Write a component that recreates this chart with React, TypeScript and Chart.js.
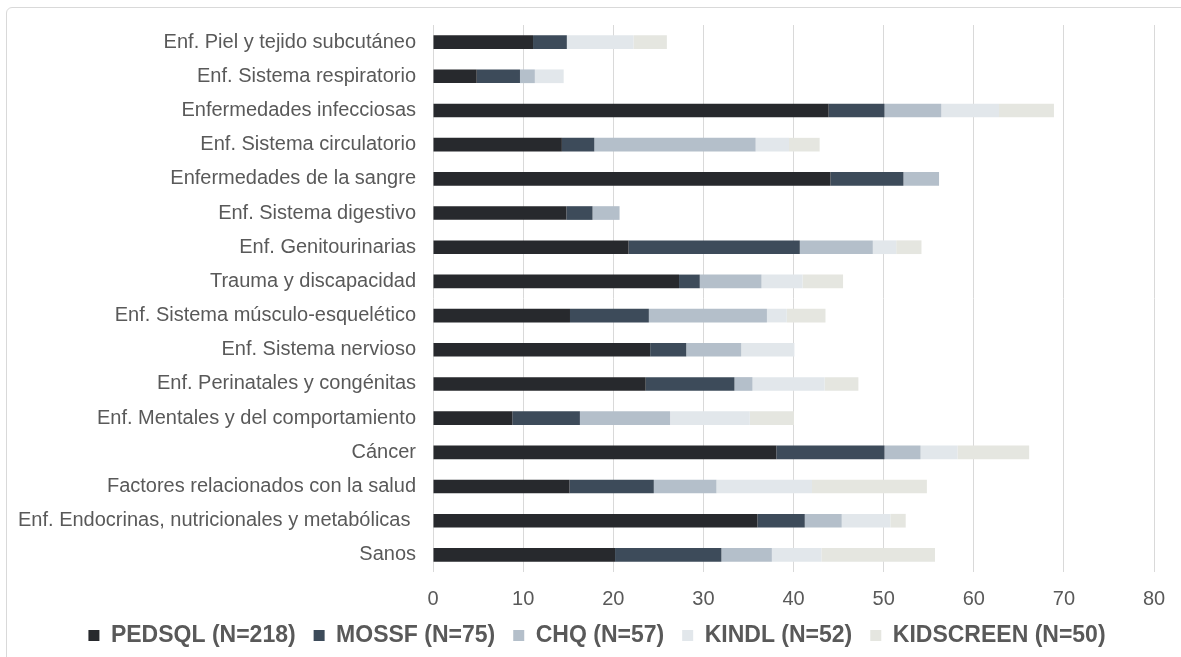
import React, { useEffect, useRef } from "react";
import { Chart, registerables } from "chart.js";

Chart.register(...registerables);

const categories = [
  "Enf. Piel y tejido subcutáneo",
  "Enf. Sistema respiratorio",
  "Enfermedades infecciosas",
  "Enf. Sistema circulatorio",
  "Enfermedades de la sangre",
  "Enf. Sistema digestivo",
  "Enf. Genitourinarias",
  "Trauma y discapacidad",
  "Enf. Sistema músculo-esquelético",
  "Enf. Sistema nervioso",
  "Enf. Perinatales y congénitas",
  "Enf. Mentales y del comportamiento",
  "Cáncer",
  "Factores relacionados con la salud",
  "Enf. Endocrinas, nutricionales y metabólicas ",
  "Sanos",
];

const seriesNames = [
  "PEDSQL (N=218)",
  "MOSSF (N=75)",
  "CHQ (N=57)",
  "KINDL (N=52)",
  "KIDSCREEN (N=50)",
];

const pedsql = [11.1, 4.85, 43.9, 14.3, 44.1, 14.8, 21.7, 27.3, 15.2, 24.1, 23.6, 8.8, 38.1, 15.15, 36.0, 20.2];
const mossf = [3.75, 4.8, 6.2, 3.6, 8.1, 2.9, 19.0, 2.3, 8.75, 4.0, 9.85, 7.5, 12.0, 9.35, 5.25, 11.8];
const chq = [0, 1.65, 6.3, 17.9, 3.95, 3.0, 8.1, 6.85, 13.1, 6.1, 2.0, 10.0, 4.0, 6.95, 4.1, 5.6];
const kindl = [7.4, 3.2, 6.4, 3.7, 0, 0, 2.6, 4.55, 2.2, 5.9, 8.0, 8.85, 4.1, 10.6, 5.4, 5.5];
const kidscreen = [3.7, 0, 6.1, 3.4, 0, 0, 2.8, 4.5, 4.3, 0, 3.75, 4.9, 7.95, 12.75, 1.7, 12.6];

const colors = ["#27292d", "#3d4b5a", "#b4bfca", "#e2e7eb", "#e5e6e0"];

const xMin = 0;
const xMax = 80;
const xStep = 10;

const legendShift = {
  id: "legendShift",
  afterLayout(chart: any) {
    const l = chart.legend;
    if (l) {
      l.left += 40;
    }
  },
};

export default function App() {
  const canvasRef = useRef<HTMLCanvasElement | null>(null);

  useEffect(() => {
    const canvas = canvasRef.current;
    if (!canvas) return;
    const allSeries = [pedsql, mossf, chq, kindl, kidscreen];
    const chart = new Chart(canvas, {
      type: "bar",
      data: {
        labels: categories,
        datasets: allSeries.map((d, i) => ({
          label: seriesNames[i],
          data: d,
          backgroundColor: colors[i],
          borderWidth: 0,
          barPercentage: 0.8,
          categoryPercentage: 0.5,
        })),
      },
      options: {
        indexAxis: "y",
        responsive: false,
        animation: false,
        devicePixelRatio: 1,
        layout: { padding: { left: 0, right: 27, top: 25, bottom: 0 } },
        scales: {
          x: {
            stacked: true,
            min: xMin,
            max: xMax,
            ticks: {
              stepSize: xStep,
              color: "#595959",
              font: { family: "'Liberation Sans', Arial, sans-serif", size: 20 },
              padding: 15,
            },
            grid: { color: "#d9d9d9", drawTicks: false, lineWidth: 1 },
            border: { display: false },
            afterFit: (s: any) => {
              s.height = s.height - 20;
            },
          },
          y: {
            stacked: true,
            ticks: {
              color: "#595959",
              font: { family: "'Liberation Sans', Arial, sans-serif", size: 20 },
              padding: 17,
              autoSkip: false,
            },
            grid: { display: false, drawTicks: false },
            border: { display: false },
            afterFit: (s: any) => {
              s.width = 433;
              s.paddingTop = 0;
              s.paddingBottom = 0;
            },
          },
        },
        plugins: {
          legend: {
            position: "bottom",
            labels: {
              boxWidth: 11,
              boxHeight: 11,
              padding: 18,
              color: "#595959",
              font: { family: "'Liberation Sans', Arial, sans-serif", size: 23, weight: "bold" },
            },
          },
          tooltip: { enabled: false },
        },
      },
      plugins: [legendShift],
    });
    return () => chart.destroy();
  }, []);

  return (
    <div style={{ position: "fixed", left: 0, top: 0, width: 1181, height: 657, background: "#fff", overflow: "hidden" }}>
      <div
        style={{
          position: "absolute",
          left: 6,
          top: 7,
          width: 1200,
          height: 700,
          border: "1px solid #d9d9d9",
          borderRadius: 6,
          boxSizing: "border-box",
        }}
      />
      <canvas ref={canvasRef} width={1181} height={657} style={{ position: "absolute", left: 0, top: 0, display: "block" }} />
    </div>
  );
}
